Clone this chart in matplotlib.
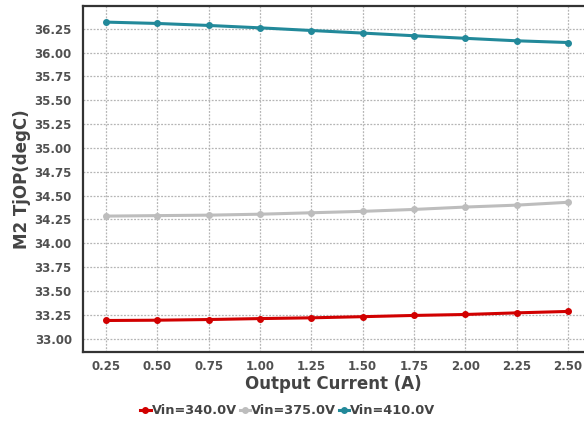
import matplotlib
matplotlib.use("Agg")
import matplotlib.pyplot as plt

# data
current = [0.25, 0.50, 0.75, 1.00, 1.25, 1.50, 1.75, 2.00, 2.25, 2.50]
vin_340 = [33.19, 33.193, 33.20, 33.21, 33.218, 33.23, 33.243, 33.253, 33.27, 33.285]
vin_375 = [34.285, 34.29, 34.295, 34.305, 34.32, 34.335, 34.355, 34.38, 34.40, 34.43]
vin_410 = [36.32, 36.306, 36.285, 36.26, 36.232, 36.205, 36.177, 36.15, 36.124, 36.106]
labels = ["Vin=340.0V", "Vin=375.0V", "Vin=410.0V"]
colors = ["#d10000", "#bdbdbd", "#22899a"]

yticks = [33.00, 33.25, 33.50, 33.75, 34.00, 34.25, 34.50, 34.75,
          35.00, 35.25, 35.50, 35.75, 36.00, 36.25]

fig = plt.figure(figsize=(5.84, 4.22), dpi=100)
ax = fig.add_axes([0.142, 0.166, 0.858, 0.820])

for ys, lab, c in zip([vin_340, vin_375, vin_410], labels, colors):
    ax.plot(current, ys, color=c, lw=2.2, marker="o", ms=4, label=lab)

ax.set_xlim(0.138, 2.578)
ax.set_ylim(32.86, 36.49)
ax.set_xticks(current)
ax.set_xticklabels(["%.2f" % v for v in current])
ax.set_yticks(yticks)
ax.set_yticklabels(["%.2f" % v for v in yticks])

ax.grid(True, color="#b5b5b5", ls=(0, (1.5, 1.2)), lw=0.9)
ax.tick_params(axis="x", length=0, labelsize=8.5, labelcolor="#505050", pad=6)
ax.tick_params(axis="y", length=0, labelsize=8.5, labelcolor="#505050", pad=8)
for t in ax.get_xticklabels() + ax.get_yticklabels():
    t.set_fontweight("bold")

ax.spines["right"].set_visible(False)
for s in ["left", "bottom", "top"]:
    ax.spines[s].set_color("#333333")
    ax.spines[s].set_linewidth(1.6)

ax.set_xlabel("Output Current (A)", fontsize=12, fontweight="bold", color="#444444", labelpad=1)
ax.set_ylabel("M2 TjOP(degC)", fontsize=12, fontweight="bold", color="#444444", labelpad=4)
ax.yaxis.set_label_coords(-0.103, 0.5)

leg = fig.legend(loc="center", bbox_to_anchor=(0.493, 0.027), ncol=3, frameon=False,
                 handlelength=0.8, handletextpad=0.1, columnspacing=0.2,
                 prop={"weight": "bold", "size": 9.3})
for t in leg.get_texts():
    t.set_color("#444444")

fig.savefig("out.png", dpi=100)
